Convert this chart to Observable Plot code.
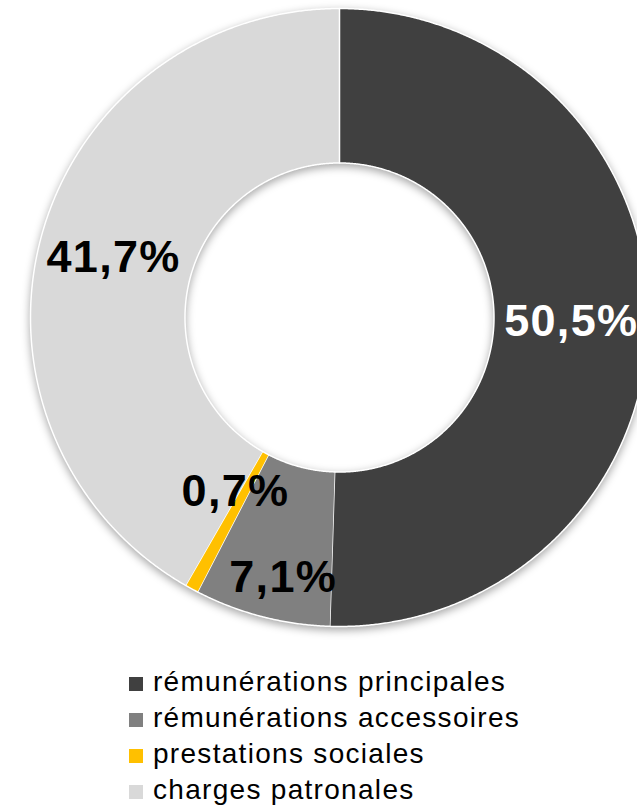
<!DOCTYPE html>
<html>
<head>
<meta charset="utf-8">
<script src="https://cdn.jsdelivr.net/npm/d3@7"></script>
<script src="https://cdn.jsdelivr.net/npm/@observablehq/plot@0.6"></script>
<style>
  html, body { margin: 0; padding: 0; background: #fff; }
  body { width: 637px; height: 809px; overflow: hidden; font-family: "Liberation Sans", Arial, sans-serif; }
  #chart svg { display: block; }
  #chart svg text { letter-spacing: 1.3px; }
  #legend { position: relative; margin-top: 24px; margin-left: 129px; }
  .row { position: relative; height: 36px; }
  .sw { position: absolute; left: 0; top: 13px; width: 14px; height: 14px; }
  .lb { position: absolute; left: 24px; top: 0; line-height: 36px; font-size: 28px; letter-spacing: 1.3px; color: #000; white-space: nowrap; }
</style>
</head>
<body>
<div id="chart"></div>
<div id="legend"></div>
<script>
const categories = ["rémunérations principales", "rémunérations accessoires", "prestations sociales", "charges patronales"];
const values = [50.5, 7.1, 0.7, 41.7];
const labels = ["50,5%", "7,1%", "0,7%", "41,7%"];
const colors = ["#404040", "#808080", "#FFC000", "#D9D9D9"];

const innerRatio = 0.5;
const arcs = d3.pie().sort(null).startAngle(0).endAngle(2 * Math.PI)(values);

// polygon points of each ring slice, in unit data coordinates
const pts = [];
arcs.forEach((a, i) => {
  const n = Math.max(2, Math.ceil((a.endAngle - a.startAngle) / 0.005));
  for (let k = 0; k <= n; k++) {
    const t = a.startAngle + (a.endAngle - a.startAngle) * k / n;
    pts.push({cat: categories[i], x: Math.sin(t), y: Math.cos(t)});
  }
  for (let k = n; k >= 0; k--) {
    const t = a.startAngle + (a.endAngle - a.startAngle) * k / n;
    pts.push({cat: categories[i], x: innerRatio * Math.sin(t), y: innerRatio * Math.cos(t)});
  }
});

const rMid = (1 + innerRatio) / 2;
const lab = arcs.map((a, i) => {
  const m = (a.startAngle + a.endAngle) / 2;
  return {cat: categories[i], label: labels[i], x: rMid * Math.sin(m), y: rMid * Math.cos(m)};
});

const textOpts = {x: "x", y: "y", text: "label", fontSize: 45, fontWeight: "bold",
  fontFamily: "Liberation Sans, Arial, sans-serif"};

const chart = Plot.plot({
  width: 637,
  height: 640,
  margin: 0,
  x: {domain: [-1, 1], range: [30, 648], axis: null},
  y: {domain: [-1, 1], range: [626, 8], axis: null},
  color: {domain: categories, range: colors},
  marks: [
    Plot.line(pts, {x: "x", y: "y", z: "cat", fill: "cat", stroke: "white", strokeWidth: 1.5, curve: "linear"}),
    Plot.text(lab.filter(d => d.label === "50,5%"), {...textOpts, fill: "white"}),
    Plot.text(lab.filter(d => d.label === "41,7%"), {...textOpts, fill: "black", dx: -2}),
    Plot.text(lab.filter(d => d.label === "0,7%"), {...textOpts, fill: "black", dx: 7, dy: -29}),
    Plot.text(lab.filter(d => d.label === "7,1%"), {...textOpts, fill: "black", dx: 2, dy: 36})
  ]
});
const ring = chart.querySelector("g[aria-label='line']");
if (ring) ring.style.filter = "drop-shadow(0px 3px 4px rgba(0,0,0,0.35))";
document.getElementById("chart").appendChild(chart);

const legend = document.getElementById("legend");
categories.forEach((c, i) => {
  const row = document.createElement("div");
  row.className = "row";
  const sw = document.createElement("div");
  sw.className = "sw";
  sw.style.background = colors[i];
  const lb = document.createElement("div");
  lb.className = "lb";
  lb.textContent = c;
  row.appendChild(sw);
  row.appendChild(lb);
  legend.appendChild(row);
});
</script>
</body>
</html>
